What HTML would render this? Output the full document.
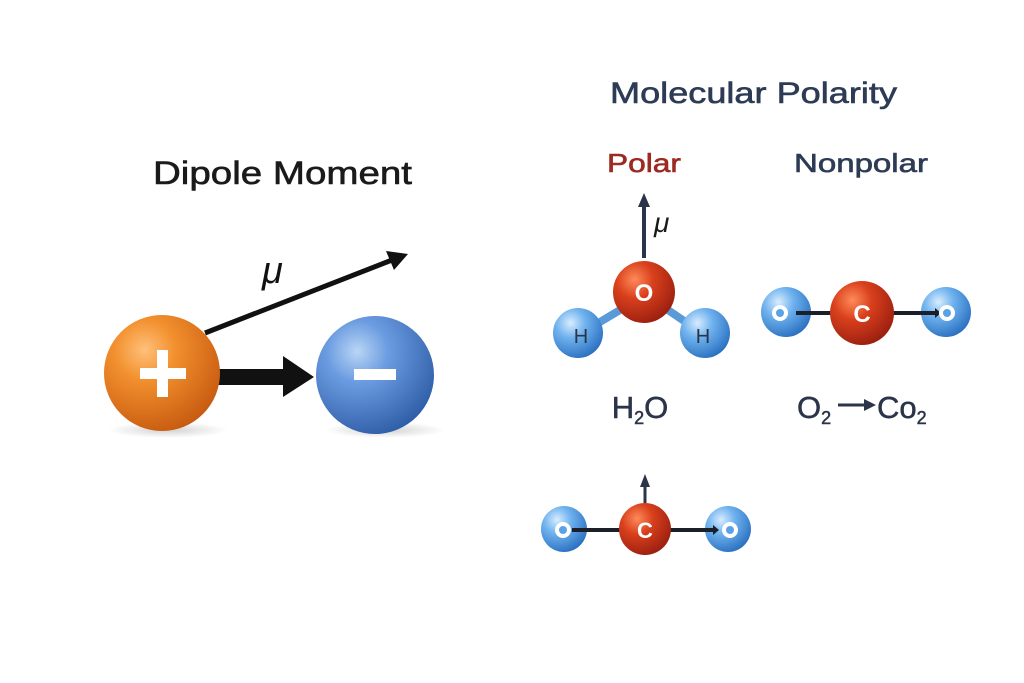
<!DOCTYPE html>
<html><head><meta charset="utf-8"><style>
body{margin:0;background:#fff;width:1024px;height:683px;overflow:hidden}
svg{display:block}
text{font-family:"Liberation Sans",sans-serif}
</style></head><body>
<svg width="1024" height="683" viewBox="0 0 1024 683">
<defs>
<radialGradient id="og" cx="35%" cy="30%" r="75%"><stop offset="0" stop-color="#ffc07a"/><stop offset="0.35" stop-color="#f2902e"/><stop offset="1" stop-color="#c75a10"/></radialGradient>
<radialGradient id="bg" cx="35%" cy="30%" r="75%"><stop offset="0" stop-color="#b9d6f5"/><stop offset="0.35" stop-color="#6b9be0"/><stop offset="1" stop-color="#2f5ea8"/></radialGradient>
<radialGradient id="rg" cx="35%" cy="30%" r="75%"><stop offset="0" stop-color="#ff8a5a"/><stop offset="0.4" stop-color="#d9401c"/><stop offset="1" stop-color="#9a1e10"/></radialGradient>
<radialGradient id="lb" cx="35%" cy="30%" r="75%"><stop offset="0" stop-color="#d8ecff"/><stop offset="0.4" stop-color="#6fb2ee"/><stop offset="1" stop-color="#2a6fc0"/></radialGradient>
<radialGradient id="sh"><stop offset="0" stop-color="#000" stop-opacity="0.18"/><stop offset="1" stop-color="#000" stop-opacity="0"/></radialGradient>
</defs>
<text x="153" y="184" font-size="32" textLength="259" lengthAdjust="spacingAndGlyphs" fill="#1a1a1a" stroke="#1a1a1a" stroke-width="0.6">Dipole Moment</text>
<text x="610" y="103" font-size="30" textLength="287" lengthAdjust="spacingAndGlyphs" fill="#2d3b55" stroke="#2d3b55" stroke-width="0.6">Molecular Polarity</text>
<text x="607" y="172" font-size="26" textLength="74" lengthAdjust="spacingAndGlyphs" fill="#9b2a22" stroke="#9b2a22" stroke-width="0.6">Polar</text>
<text x="794" y="172" font-size="26" textLength="134" lengthAdjust="spacingAndGlyphs" fill="#2d3b55" stroke="#2d3b55" stroke-width="0.6">Nonpolar</text>

<ellipse cx="168" cy="430" rx="60" ry="8" fill="url(#sh)"/>
<ellipse cx="385" cy="430" rx="60" ry="8" fill="url(#sh)"/>
<line x1="205" y1="333" x2="392" y2="260" stroke="#111" stroke-width="5"/>
<path d="M408,254 L386,251 L394,270 Z" fill="#111"/>
<text x="262" y="283" font-size="38" font-style="italic" fill="#111" font-family="Liberation Serif">μ</text>
<rect x="218" y="369" width="72" height="16" fill="#111"/>
<path d="M283,356 L314,377 L283,397 Z" fill="#111"/>
<circle cx="162" cy="373" r="58" fill="url(#og)"/>
<rect x="140" y="368" width="46" height="11" fill="#fff"/><rect x="157" y="350" width="11" height="47" fill="#fff"/>
<circle cx="375" cy="375" r="59" fill="url(#bg)"/>
<rect x="354" y="369" width="42" height="11" fill="#fff"/>

<line x1="644" y1="258" x2="644" y2="204" stroke="#2b3448" stroke-width="4"/>
<path d="M644,193 L638,207 L650,207 Z" fill="#2b3448"/>
<text x="654" y="232" font-size="28" font-style="italic" fill="#1a1a1a" font-family="Liberation Serif">μ</text>
<line x1="620" y1="310" x2="595" y2="325" stroke="#5a9ad8" stroke-width="8"/>
<line x1="668" y1="310" x2="690" y2="325" stroke="#5a9ad8" stroke-width="8"/>
<circle cx="578" cy="333" r="25" fill="url(#lb)"/>
<circle cx="705" cy="333" r="25" fill="url(#lb)"/>
<circle cx="644" cy="292" r="31" fill="url(#rg)"/>
<text x="644" y="301" font-size="24" text-anchor="middle" fill="#fff" font-weight="bold">O</text>
<text x="581" y="343" font-size="20" text-anchor="middle" fill="#2b3448">H</text>
<text x="703" y="343" font-size="20" text-anchor="middle" fill="#2b3448">H</text>

<circle cx="786" cy="312" r="25" fill="url(#lb)"/>
<circle cx="946" cy="312" r="25" fill="url(#lb)"/>
<line x1="796" y1="313" x2="935" y2="313" stroke="#1a1f2a" stroke-width="4"/>
<path d="M935,308 L941,313 L935,318 Z" fill="#1a1f2a"/>
<circle cx="862" cy="313" r="32" fill="url(#rg)"/>
<circle cx="780" cy="313" r="8" fill="#fff"/><circle cx="780" cy="313" r="4" fill="#5aa2e8"/>
<circle cx="947" cy="313" r="8" fill="#fff"/><circle cx="947" cy="313" r="4" fill="#5aa2e8"/>
<text x="862" y="322" font-size="24" text-anchor="middle" fill="#fff" font-weight="bold">C</text>

<text x="640" y="418" font-size="31" text-anchor="middle" fill="#2b3448" stroke="#2b3448" stroke-width="0.5">H<tspan font-size="18" dy="6">2</tspan><tspan dy="-6">O</tspan></text>
<text x="797" y="418" font-size="31" fill="#2b3448" stroke="#2b3448" stroke-width="0.5">O<tspan font-size="18" dy="6">2</tspan></text>
<line x1="838" y1="405" x2="866" y2="405" stroke="#2b3448" stroke-width="3"/>
<path d="M864,399 L876,405 L864,411 Z" fill="#2b3448"/>
<text x="877" y="418" font-size="31" fill="#2b3448" stroke="#2b3448" stroke-width="0.5">Co<tspan font-size="18" dy="6">2</tspan></text>

<line x1="645" y1="503" x2="645" y2="485" stroke="#2b3448" stroke-width="3"/>
<path d="M645,474 L640,487 L650,487 Z" fill="#2b3448"/>
<circle cx="564" cy="529" r="23" fill="url(#lb)"/>
<circle cx="728" cy="529" r="23" fill="url(#lb)"/>
<line x1="572" y1="530" x2="715" y2="530" stroke="#1a1f2a" stroke-width="4"/>
<path d="M713,525 L719,530 L713,535 Z" fill="#1a1f2a"/>
<circle cx="645" cy="529" r="26" fill="url(#rg)"/>
<circle cx="563" cy="530" r="8" fill="#fff"/><circle cx="563" cy="530" r="4" fill="#5aa2e8"/>
<circle cx="730" cy="530" r="8" fill="#fff"/><circle cx="730" cy="530" r="4" fill="#5aa2e8"/>
<text x="645" y="538" font-size="22" text-anchor="middle" fill="#fff" font-weight="bold">C</text>
</svg>
</body></html>
